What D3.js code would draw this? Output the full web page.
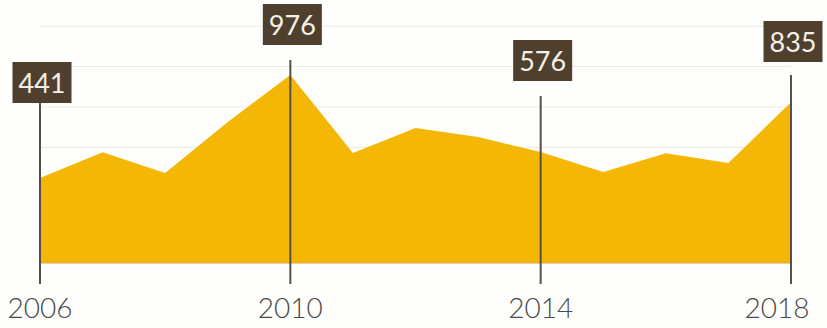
<!DOCTYPE html>
<html>
<head>
<meta charset="utf-8">
<script src="https://cdn.jsdelivr.net/npm/d3@7"></script>
<style>
  html, body { margin: 0; padding: 0; background: #fefefd; }
  #viz { width: 827px; height: 328px; }
  text { font-family: "Lato", "Liberation Sans", sans-serif; }
</style>
</head>
<body>
<div id="viz"></div>
<script>
// Yearly values
const years = [2006, 2007, 2008, 2009, 2010, 2011, 2012, 2013, 2014, 2015, 2016, 2017, 2018];
const values = [441, 575, 467, 732, 976, 571, 701, 654, 576, 472, 570, 519, 835];

// Years that get a marker line + value box
const labelYears = [2006, 2010, 2014, 2018];
// faint background guide lines (value units)
const gridValues = [600, 810, 1020, 1230];

const width = 827, height = 328;

const svg = d3.select("#viz")
  .append("svg")
  .attr("width", width)
  .attr("height", height);

const x = d3.scaleLinear().domain([2006, 2018]).range([40, 791]);
const y = d3.scaleLinear().domain([0, 976]).range([263, 75]);

const data = years.map((yr, i) => ({ year: yr, value: values[i] }));

// faint guide lines
svg.append("g")
  .selectAll("line")
  .data(gridValues)
  .join("line")
  .attr("x1", x(2006))
  .attr("x2", x(2018))
  .attr("y1", d => y(d))
  .attr("y2", d => y(d))
  .attr("stroke", "#ececea")
  .attr("stroke-width", 1.2);

// area
const area = d3.area()
  .x(d => x(d.year))
  .y0(y(0))
  .y1(d => y(d.value));

svg.append("path")
  .datum(data)
  .attr("d", area)
  .attr("fill", "#f5b706");

// thin base edge
svg.append("line")
  .attr("x1", x(2006)).attr("x2", x(2018))
  .attr("y1", y(0)).attr("y2", y(0))
  .attr("stroke", "#e8a43a")
  .attr("stroke-width", 1);

// value boxes: top of each box and gap down to the marker line
const boxH = 41;
const boxW = 59;
const boxTop = { 2006: 62, 2010: 4, 2014: 40, 2018: 21 };
const lineGap = { 2006: 0, 2010: 15, 2014: 15, 2018: 13 };

const marks = data.filter(d => labelYears.includes(d.year));

const mg = svg.append("g")
  .selectAll("g")
  .data(marks)
  .join("g");

mg.append("line")
  .attr("x1", d => x(d.year))
  .attr("x2", d => x(d.year))
  .attr("y1", d => boxTop[d.year] + boxH + lineGap[d.year])
  .attr("y2", 284)
  .attr("stroke", "#555049")
  .attr("stroke-width", 2);

mg.append("rect")
  .attr("x", d => x(d.year) - boxW / 2 + 2)
  .attr("y", d => boxTop[d.year])
  .attr("width", boxW)
  .attr("height", boxH)
  .attr("fill", "#4f3f2d");

mg.append("text")
  .attr("x", d => x(d.year) + 2)
  .attr("y", d => boxTop[d.year] + 31)
  .attr("text-anchor", "middle")
  .attr("fill", "#f4f0e8")
  .attr("font-size", 27)
  .attr("font-weight", 400)
  .text(d => d.value);

mg.append("text")
  .attr("x", d => x(d.year) + (d.year === 2018 ? -14 : 0))
  .attr("y", 318)
  .attr("text-anchor", "middle")
  .attr("fill", "#4a4a48")
  .attr("font-size", 28)
  .attr("font-weight", 300)
  .text(d => d.year);
</script>
</body>
</html>
